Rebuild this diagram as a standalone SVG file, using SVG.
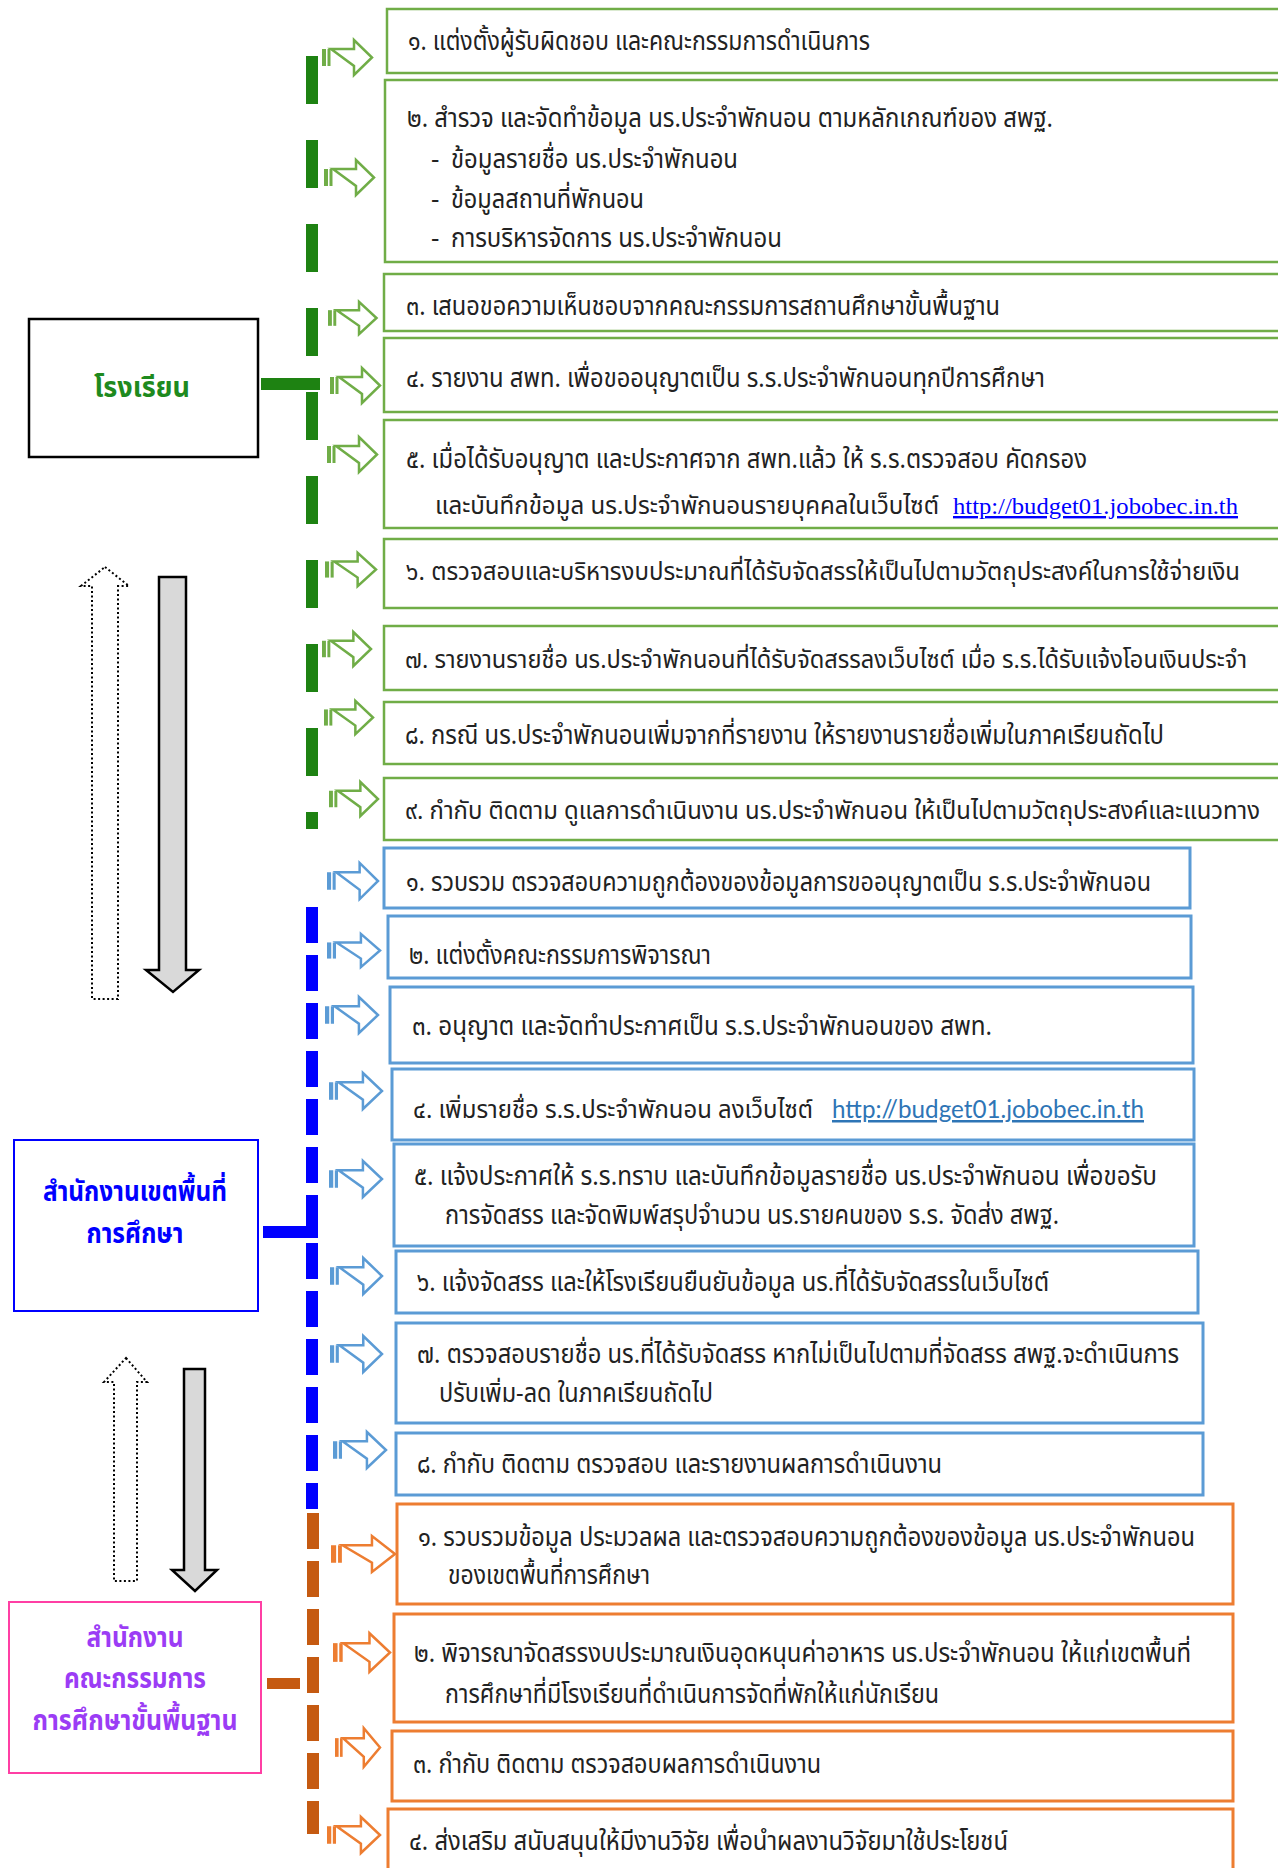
<svg xmlns="http://www.w3.org/2000/svg" xmlns:xlink="http://www.w3.org/1999/xlink" width="1278" height="1868" viewBox="0 0 1278 1868">
<style>
.t{font-family:"Noto Sans Thai","Noto Sans","DejaVu Sans",sans-serif;font-size:26px;fill:#222}
.s{font-size:24px}
.lbl{font-family:"Noto Sans Thai","Noto Sans","DejaVu Sans",sans-serif;font-size:28px;font-weight:bold;text-anchor:middle}
.gb{fill:#fff;stroke:#70AD47;stroke-width:2.5}
.bb{fill:#fff;stroke:#5B9BD5;stroke-width:3}
.ob{fill:#fff;stroke:#ED7D31;stroke-width:3}
.g{color:#70AD47}.b{color:#5B9BD5}.o{color:#ED7D31}
.dot{fill:#fff;stroke:#000;stroke-width:2;stroke-dasharray:2 2.5}
.gray{fill:#D9D9D9;stroke:#000;stroke-width:2.5}
</style>
<defs>
<g id="sa">
<rect x="0" y="-8.5" width="4" height="17" fill="currentColor"/>
<rect x="5.5" y="-8.5" width="3" height="17" fill="currentColor"/>
<path d="M9,-8.5 H32 V-17.5 L50,0 L32,17.5 V8.5 Z" fill="#fff" stroke="currentColor" stroke-width="2.5" vector-effect="non-scaling-stroke"/>
</g>
</defs>
<rect width="1278" height="1868" fill="#fff"/>

<g id="connectors">
<line x1="312" y1="56" x2="312" y2="829" stroke="#1E8212" stroke-width="12" stroke-dasharray="48 36"/>
<rect x="261" y="378" width="59" height="12" fill="#1E8212"/>
<line x1="312" y1="907" x2="312" y2="1509" stroke="#0000FF" stroke-width="12" stroke-dasharray="36 12"/>
<rect x="263" y="1226" width="55" height="12" fill="#0000FF"/>
<rect x="306" y="1195" width="12" height="43" fill="#0000FF"/>
<line x1="313" y1="1513" x2="313" y2="1834" stroke="#C55A11" stroke-width="12" stroke-dasharray="36 12"/>
<rect x="267" y="1678" width="33" height="11" fill="#C55A11"/>
<use href="#sa" class="g" transform="translate(322,57.5)"/>
<use href="#sa" class="g" transform="translate(324,177.5)"/>
<use href="#sa" class="g" transform="translate(328,318) scale(0.97,0.92)"/>
<use href="#sa" class="g" transform="translate(330,385.5)"/>
<use href="#sa" class="g" transform="translate(327,454.5)"/>
<use href="#sa" class="g" transform="translate(325,569.5) scale(1.02,0.95)"/>
<use href="#sa" class="g" transform="translate(322,649) scale(0.98,0.97)"/>
<use href="#sa" class="g" transform="translate(324,717.5) scale(0.98,0.95)"/>
<use href="#sa" class="g" transform="translate(329,799) scale(0.98,0.97)"/>
<use href="#sa" class="b" transform="translate(327,881) scale(1.02,1.03)"/>
<use href="#sa" class="b" transform="translate(327,950.5) scale(1.06,0.95)"/>
<use href="#sa" class="b" transform="translate(325,1015) scale(1.06,1.03)"/>
<use href="#sa" class="b" transform="translate(329,1091) scale(1.06,1.03)"/>
<use href="#sa" class="b" transform="translate(329,1179) scale(1.06,1.03)"/>
<use href="#sa" class="b" transform="translate(330,1276) scale(1.04,1.03)"/>
<use href="#sa" class="b" transform="translate(330,1354) scale(1.04,1.03)"/>
<use href="#sa" class="b" transform="translate(333,1450) scale(1.06,1.03)"/>
<use href="#sa" class="o" transform="translate(331,1554) scale(1.28,1.03)"/>
<use href="#sa" class="o" transform="translate(333,1652.5) scale(1.14,1.1)"/>
<use href="#sa" class="o" transform="translate(335,1747.5) scale(0.9,1.1)"/>
<use href="#sa" class="o" transform="translate(327,1835) scale(1.06,1.03)"/>
</g>

<g id="flow-arrows">
<polygon class="dot" points="105,567 129,586 118,586 118,999 92,999 92,586 81,586"/>
<polygon class="gray" points="159,577 186,577 186,970 199,970 173,992 146,970 159,970"/>
<polygon class="dot" points="126,1358 147,1382 137,1382 137,1581 114,1581 114,1382 104,1382"/>
<polygon class="gray" points="184,1369 205,1369 205,1570 217,1570 195,1591 172,1570 184,1570"/>
</g>

<g id="school">
<rect x="29" y="319" width="229" height="138" fill="#fff" stroke="#000" stroke-width="2.5"/>
<text class="lbl" x="142" y="397" fill="#1E8A1E" textLength="96" lengthAdjust="spacingAndGlyphs">โรงเรียน</text>
</g>
<g id="area-office">
<rect x="14" y="1140" width="244" height="171" fill="#fff" stroke="#0000FF" stroke-width="2"/>
<text class="lbl" x="135" y="1201" fill="#0000FF" textLength="184" lengthAdjust="spacingAndGlyphs">สำนักงานเขตพื้นที่</text>
<text class="lbl" x="135" y="1243" fill="#0000FF" textLength="97" lengthAdjust="spacingAndGlyphs">การศึกษา</text>
</g>
<g id="obec">
<rect x="9" y="1602" width="252" height="171" fill="#fff" stroke="#FF3FA4" stroke-width="2"/>
<text class="lbl" x="135" y="1647" fill="#9B3CF5" textLength="97" lengthAdjust="spacingAndGlyphs">สำนักงาน</text>
<text class="lbl" x="135" y="1688" fill="#9B3CF5" textLength="142" lengthAdjust="spacingAndGlyphs">คณะกรรมการ</text>
<text class="lbl" x="135" y="1730" fill="#9B3CF5" textLength="205" lengthAdjust="spacingAndGlyphs">การศึกษาขั้นพื้นฐาน</text>
</g>

<g id="s1"><rect class="gb" x="387" y="9" width="903" height="64"/>
<text class="t" x="408" y="50" textLength="462" lengthAdjust="spacingAndGlyphs">๑.  แต่งตั้งผู้รับผิดชอบ และคณะกรรมการดำเนินการ</text></g>
<g id="s2"><rect class="gb" x="385" y="80" width="905" height="182"/>
<text class="t" x="407" y="127" textLength="646" lengthAdjust="spacingAndGlyphs">๒. สำรวจ และจัดทำข้อมูล นร.ประจำพักนอน ตามหลักเกณฑ์ของ สพฐ.</text>
<text class="t" x="431" y="168">-</text><text class="t" x="451" y="168" textLength="287" lengthAdjust="spacingAndGlyphs">ข้อมูลรายชื่อ นร.ประจำพักนอน</text>
<text class="t" x="431" y="208">-</text><text class="t" x="451" y="208" textLength="193" lengthAdjust="spacingAndGlyphs">ข้อมูลสถานที่พักนอน</text>
<text class="t" x="431" y="247">-</text><text class="t" x="451" y="247" textLength="331" lengthAdjust="spacingAndGlyphs">การบริหารจัดการ นร.ประจำพักนอน</text></g>
<g id="s3"><rect class="gb" x="384" y="274" width="906" height="57"/>
<text class="t" x="406" y="315" textLength="594" lengthAdjust="spacingAndGlyphs">๓. เสนอขอความเห็นชอบจากคณะกรรมการสถานศึกษาขั้นพื้นฐาน</text></g>
<g id="s4"><rect class="gb" x="384" y="338" width="906" height="74"/>
<text class="t" x="406" y="387" textLength="639" lengthAdjust="spacingAndGlyphs">๔. รายงาน สพท. เพื่อขออนุญาตเป็น ร.ร.ประจำพักนอนทุกปีการศึกษา</text></g>
<g id="s5"><rect class="gb" x="384" y="420" width="906" height="108"/>
<text class="t" x="406" y="468" textLength="681" lengthAdjust="spacingAndGlyphs">๕. เมื่อได้รับอนุญาต และประกาศจาก สพท.แล้ว ให้ ร.ร.ตรวจสอบ คัดกรอง</text>
<text class="t s" x="435" y="514" textLength="504" lengthAdjust="spacingAndGlyphs">และบันทึกข้อมูล นร.ประจำพักนอนรายบุคคลในเว็บไซต์</text>
<text x="953" y="514" font-family="Liberation Serif" font-size="24" fill="#0000FF" text-decoration="underline" textLength="285" lengthAdjust="spacingAndGlyphs">http://budget01.jobobec.in.th</text></g>
<g id="s6"><rect class="gb" x="384" y="539" width="906" height="69"/>
<text class="t s" x="406" y="580" textLength="834" lengthAdjust="spacingAndGlyphs">๖. ตรวจสอบและบริหารงบประมาณที่ได้รับจัดสรรให้เป็นไปตามวัตถุประสงค์ในการใช้จ่ายเงิน</text></g>
<g id="s7"><rect class="gb" x="384" y="626" width="906" height="64"/>
<text class="t s" x="405" y="668" textLength="842" lengthAdjust="spacingAndGlyphs">๗. รายงานรายชื่อ นร.ประจำพักนอนที่ได้รับจัดสรรลงเว็บไซต์ เมื่อ ร.ร.ได้รับแจ้งโอนเงินประจำ</text></g>
<g id="s8"><rect class="gb" x="384" y="702" width="906" height="62"/>
<text class="t" x="405" y="744" textLength="759" lengthAdjust="spacingAndGlyphs">๘. กรณี นร.ประจำพักนอนเพิ่มจากที่รายงาน ให้รายงานรายชื่อเพิ่มในภาคเรียนถัดไป</text></g>
<g id="s9"><rect class="gb" x="384" y="778" width="906" height="62"/>
<text class="t s" x="405" y="819" textLength="855" lengthAdjust="spacingAndGlyphs">๙. กำกับ ติดตาม ดูแลการดำเนินงาน นร.ประจำพักนอน ให้เป็นไปตามวัตถุประสงค์และแนวทาง</text></g>

<g id="a1"><rect class="bb" x="384" y="848" width="806" height="60"/>
<text class="t" x="406" y="891" textLength="745" lengthAdjust="spacingAndGlyphs">๑. รวบรวม ตรวจสอบความถูกต้องของข้อมูลการขออนุญาตเป็น ร.ร.ประจำพักนอน</text></g>
<g id="a2"><rect class="bb" x="388" y="916" width="803" height="62"/>
<text class="t" x="409" y="964" textLength="302" lengthAdjust="spacingAndGlyphs">๒. แต่งตั้งคณะกรรมการพิจารณา</text></g>
<g id="a3"><rect class="bb" x="390" y="987" width="803" height="76"/>
<text class="t" x="412" y="1035" textLength="580" lengthAdjust="spacingAndGlyphs">๓. อนุญาต และจัดทำประกาศเป็น ร.ร.ประจำพักนอนของ สพท.</text></g>
<g id="a4"><rect class="bb" x="392" y="1069" width="802" height="71"/>
<text class="t s" x="413" y="1118" textLength="400" lengthAdjust="spacingAndGlyphs">๔. เพิ่มรายชื่อ ร.ร.ประจำพักนอน ลงเว็บไซต์</text>
<text x="832" y="1118" font-family="Lato" font-size="25" fill="#2E75B6" text-decoration="underline" textLength="312" lengthAdjust="spacingAndGlyphs">http://budget01.jobobec.in.th</text></g>
<g id="a5"><rect class="bb" x="394" y="1144" width="800" height="102"/>
<text class="t" x="414" y="1185" textLength="743" lengthAdjust="spacingAndGlyphs">๕. แจ้งประกาศให้ ร.ร.ทราบ และบันทึกข้อมูลรายชื่อ นร.ประจำพักนอน เพื่อขอรับ</text>
<text class="t" x="445" y="1224" textLength="614" lengthAdjust="spacingAndGlyphs">การจัดสรร และจัดพิมพ์สรุปจำนวน นร.รายคนของ ร.ร. จัดส่ง สพฐ.</text></g>
<g id="a6"><rect class="bb" x="396" y="1251" width="802" height="62"/>
<text class="t" x="417" y="1291" textLength="632" lengthAdjust="spacingAndGlyphs">๖. แจ้งจัดสรร และให้โรงเรียนยืนยันข้อมูล นร.ที่ได้รับจัดสรรในเว็บไซต์</text></g>
<g id="a7"><rect class="bb" x="396" y="1323" width="807" height="100"/>
<text class="t" x="417" y="1363" textLength="762" lengthAdjust="spacingAndGlyphs">๗. ตรวจสอบรายชื่อ นร.ที่ได้รับจัดสรร หากไม่เป็นไปตามที่จัดสรร สพฐ.จะดำเนินการ</text>
<text class="t" x="439" y="1402" textLength="274" lengthAdjust="spacingAndGlyphs">ปรับเพิ่ม-ลด ในภาคเรียนถัดไป</text></g>
<g id="a8"><rect class="bb" x="396" y="1433" width="807" height="62"/>
<text class="t" x="417" y="1473" textLength="525" lengthAdjust="spacingAndGlyphs">๘. กำกับ ติดตาม ตรวจสอบ และรายงานผลการดำเนินงาน</text></g>

<g id="o1"><rect class="ob" x="397" y="1504" width="836" height="100"/>
<text class="t" x="418" y="1546" textLength="777" lengthAdjust="spacingAndGlyphs">๑. รวบรวมข้อมูล ประมวลผล และตรวจสอบความถูกต้องของข้อมูล นร.ประจำพักนอน</text>
<text class="t" x="448" y="1584" textLength="202" lengthAdjust="spacingAndGlyphs">ของเขตพื้นที่การศึกษา</text></g>
<g id="o2"><rect class="ob" x="394" y="1614" width="839" height="108"/>
<text class="t" x="414" y="1662" textLength="777" lengthAdjust="spacingAndGlyphs">๒. พิจารณาจัดสรรงบประมาณเงินอุดหนุนค่าอาหาร นร.ประจำพักนอน ให้แก่เขตพื้นที่</text>
<text class="t" x="445" y="1703" textLength="494" lengthAdjust="spacingAndGlyphs">การศึกษาที่มีโรงเรียนที่ดำเนินการจัดที่พักให้แก่นักเรียน</text></g>
<g id="o3"><rect class="ob" x="392" y="1731" width="841" height="70"/>
<text class="t" x="413" y="1773" textLength="408" lengthAdjust="spacingAndGlyphs">๓. กำกับ ติดตาม ตรวจสอบผลการดำเนินงาน</text></g>
<g id="o4"><rect class="ob" x="388" y="1809" width="845" height="80"/>
<text class="t" x="409" y="1850" textLength="599" lengthAdjust="spacingAndGlyphs">๔. ส่งเสริม สนับสนุนให้มีงานวิจัย เพื่อนำผลงานวิจัยมาใช้ประโยชน์</text></g>
</svg>
